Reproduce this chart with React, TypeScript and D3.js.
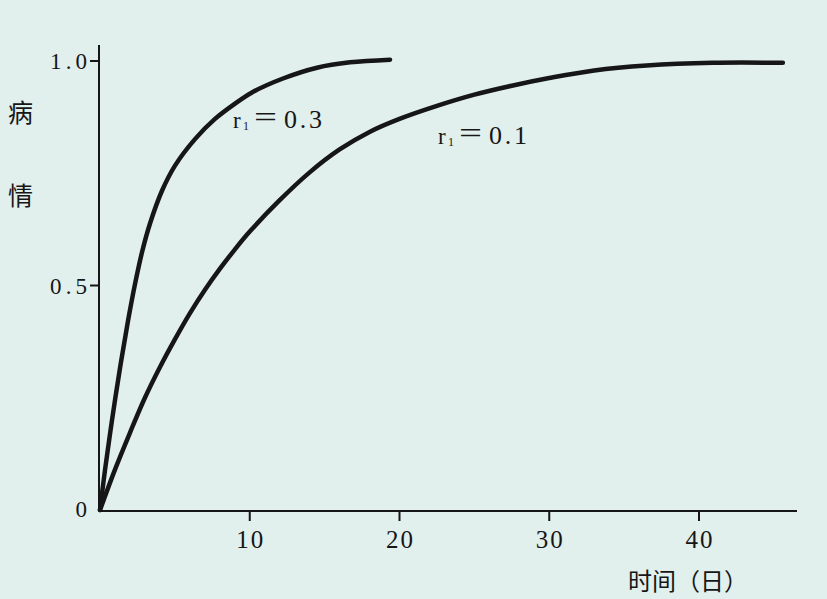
import React from "react";
import * as d3 from "d3";

const xTicks = [10, 20, 30, 40];
const yTicks = [0.5, 1.0];
const yTickLabels = ["0.5", "1.0"];

const r03T = [0, 0.334, 0.801, 1.336, 1.87, 2.337, 2.805, 3.339, 4.14, 5.008, 6.344, 7.679, 9.015, 10.15, 12.22, 14.491, 16.694, 19.366];
const r03V = [0, 0.089, 0.2, 0.316, 0.421, 0.503, 0.574, 0.638, 0.711, 0.767, 0.826, 0.871, 0.905, 0.93, 0.961, 0.985, 0.997, 1.003];

const r01T = [0, 1, 2, 3, 4, 5, 6, 7, 8, 9, 10, 12, 14, 16, 18, 20, 22.5, 25, 27.5, 30, 33, 36.5, 40.9, 45.6];
const r01V = [0, 0.09, 0.172, 0.25, 0.318, 0.38, 0.438, 0.49, 0.537, 0.58, 0.62, 0.69, 0.752, 0.803, 0.842, 0.871, 0.9, 0.925, 0.945, 0.962, 0.979, 0.99, 0.996, 0.996];

const curveLabels = [
  { name: "0.3", x: 233, y: 128 },
  { name: "0.1", x: 438, y: 144 },
];

const W = 827;
const H = 599;
const ink = "#161616";
const serif = "'Liberation Serif', 'DejaVu Serif', serif";
const cjk = "'Noto Sans CJK SC', sans-serif";

export default function App() {
  const x = d3.scaleLinear().domain([0, 40]).range([100, 699]);
  const y = d3.scaleLinear().domain([0, 1]).range([510, 61]);
  const line = d3
    .line<[number, number]>()
    .x((d) => x(d[0]))
    .y((d) => y(d[1]))
    .curve(d3.curveCatmullRom.alpha(0.5));
  const s03 = r03T.map((t, i) => [t, r03V[i]] as [number, number]);
  const s01 = r01T.map((t, i) => [t, r01V[i]] as [number, number]);
  const x0 = x(0) - 1;
  const y0 = y(0) + 1;

  return (
    <svg
      width={W}
      height={H}
      style={{ position: "absolute", left: 0, top: 0 }}
    >
      <rect x={0} y={0} width={W} height={H} fill="#e1efed" />
      {/* axes */}
      <line x1={x0} y1={45} x2={x0} y2={y0} stroke={ink} strokeWidth={2} />
      <line x1={x0} y1={y0} x2={797} y2={y0} stroke={ink} strokeWidth={2} />
      {xTicks.map((t) => (
        <g key={"x" + t}>
          <line x1={x(t)} y1={y0} x2={x(t)} y2={y0 + 10} stroke={ink} strokeWidth={2} />
          <text
            x={x(t)}
            y={y0 + 37}
            textAnchor="middle"
            fontFamily={serif}
            fontSize={25}
            textLength={27}
            lengthAdjust="spacing"
            fill={ink}
          >
            {t}
          </text>
        </g>
      ))}
      {yTicks.map((v, i) => (
        <g key={"y" + v}>
          <line x1={x0 - 9} y1={y(v)} x2={x0} y2={y(v)} stroke={ink} strokeWidth={2} />
          <text
            x={x0 - 49}
            y={y(v) + 8}
            fontFamily={serif}
            fontSize={23}
            textLength={37}
            lengthAdjust="spacing"
            fill={ink}
          >
            {yTickLabels[i]}
          </text>
        </g>
      ))}
      <text x={87} y={517} textAnchor="end" fontFamily={serif} fontSize={23} fill={ink}>
        0
      </text>
      {/* curves */}
      <path d={line(s03) || ""} fill="none" stroke={ink} strokeWidth={4.5} strokeLinecap="round" />
      <path d={line(s01) || ""} fill="none" stroke={ink} strokeWidth={4.5} strokeLinecap="round" />
      {/* curve labels */}
      {curveLabels.map((c) => (
        <g key={c.name} fill={ink} fontFamily={serif}>
          <text x={c.x} y={c.y} fontSize={23}>r</text>
          <text x={c.x + 10} y={c.y + 2} fontSize={12}>1</text>
          <text x={c.x + 21} y={c.y - 1} fontSize={30} textLength={23} lengthAdjust="spacingAndGlyphs">=</text>
          <text x={c.x + 51} y={c.y} fontSize={26} textLength={38} lengthAdjust="spacing">
            {c.name}
          </text>
        </g>
      ))}
      {/* axis titles */}
      <text x={8} y={122} fontFamily={cjk} fontSize={25} fill={ink}>
        病
      </text>
      <text x={8} y={205} fontFamily={cjk} fontSize={25} fill={ink}>
        情
      </text>
      <text x={628} y={590} fontFamily={cjk} fontSize={24} fill={ink}>
        时间（日）
      </text>
    </svg>
  );
}
